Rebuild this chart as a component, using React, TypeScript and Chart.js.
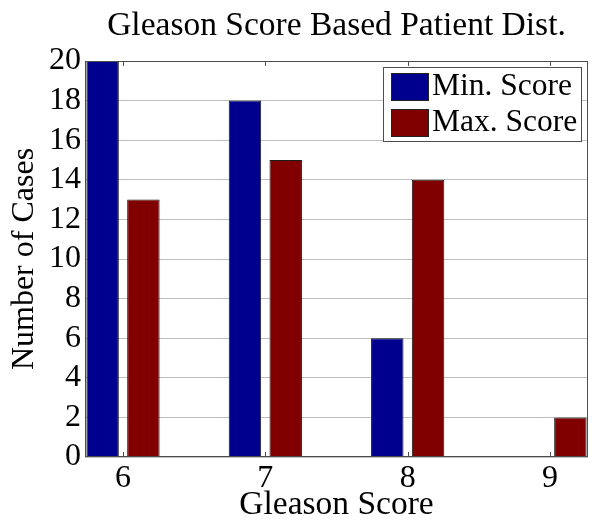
import React, { useEffect, useRef } from 'react';
import { Chart, registerables } from 'chart.js';

Chart.register(...registerables);

// ---- data ----
const categories = [6, 7, 8, 9];
const minScore = [20, 18, 6, 0];
const maxScore = [13, 15, 14, 2];
const seriesNames = ['Min. Score', 'Max. Score'];
const seriesColors = ['#00008f', '#800000'];
const yMin = 0;
const yMax = 20;
const yStep = 2;
const titleText = 'Gleason Score Based Patient Dist.';
const xTitleText = 'Gleason Score';
const yTitleText = 'Number of Cases';

const FONT = "'Liberation Serif', 'Times New Roman', Times, serif";
const AXIS_COLOR = '#4d4d4d';

const boxPlugin = {
  id: 'matlabBox',
  afterDatasetsDraw(chart: any) {
    const { ctx, chartArea } = chart;
    const { left, right, top, bottom } = chartArea;
    const xs = chart.scales.x;
    ctx.save();
    ctx.strokeStyle = AXIS_COLOR;
    ctx.lineWidth = 1;
    categories.forEach((c) => {
      const px = Math.round(xs.getPixelForValue(c)) + 0.5;
      ctx.beginPath();
      ctx.moveTo(px, bottom);
      ctx.lineTo(px, bottom - 5);
      ctx.moveTo(px, top);
      ctx.lineTo(px, top + 5);
      ctx.stroke();
    });
    ctx.strokeRect(left + 0.5, top + 0.5, right - left - 1, bottom - top - 1);
    ctx.restore();
  },
};

const legendPlugin = {
  id: 'insideLegend',
  afterDraw(chart: any) {
    const { ctx, chartArea } = chart;
    const boxLeft = chartArea.right - 205;
    const boxRight = chartArea.right - 6;
    const boxTop = chartArea.top + 6;
    const boxBottom = chartArea.top + 81;
    ctx.save();
    ctx.fillStyle = '#ffffff';
    ctx.fillRect(boxLeft, boxTop, boxRight - boxLeft, boxBottom - boxTop);
    ctx.strokeStyle = AXIS_COLOR;
    ctx.lineWidth = 1;
    ctx.strokeRect(boxLeft + 0.5, boxTop + 0.5, boxRight - boxLeft - 1, boxBottom - boxTop - 1);
    chart.data.datasets.forEach((ds: any, i: number) => {
      const sy = boxTop + 6 + i * 36;
      const sx = boxLeft + 8;
      ctx.fillStyle = ds.backgroundColor;
      ctx.fillRect(sx, sy, 38, 28);
      ctx.strokeStyle = '#222';
      ctx.strokeRect(sx + 0.5, sy + 0.5, 37, 27);
      ctx.fillStyle = '#000';
      ctx.font = `31.5px ${FONT}`;
      ctx.textAlign = 'left';
      ctx.textBaseline = 'middle';
      ctx.fillText(ds.label, sx + 41, sy + 14);
    });
    ctx.restore();
  },
};

export default function App() {
  const canvasRef = useRef<HTMLCanvasElement | null>(null);

  useEffect(() => {
    document.body.style.margin = '0';
    const canvas = canvasRef.current;
    if (!canvas) return;
    const yTicks: number[] = [];
    for (let v = yMin; v <= yMax; v += yStep) yTicks.push(v);

    const chart = new Chart(canvas, {
      type: 'bar',
      data: {
        datasets: [minScore, maxScore].map((vals, si) => ({
          label: seriesNames[si],
          data: categories.map((c, i) => ({ x: c, y: vals[i] })),
          backgroundColor: seriesColors[si],
          borderColor: '#1a1a1a',
          borderWidth: 1,
          categoryPercentage: 0.573,
          barPercentage: 0.796,
        })),
      },
      options: {
        responsive: false,
        animation: false,
        devicePixelRatio: 1,
        layout: { padding: { left: 0, right: 13, top: 0, bottom: 0 } },
        plugins: {
          legend: { display: false },
          tooltip: { enabled: false },
          title: {
            display: true,
            fullSize: false,
            text: titleText,
            color: '#000',
            font: { family: FONT, size: 33.5, weight: 'normal', lineHeight: 1 },
            padding: { top: 9, bottom: 18.5 },
          },
        },
        scales: {
          x: {
            type: 'linear',
            min: 5.733,
            max: 9.267,
            offset: false,
            afterBuildTicks: (s: any) => {
              s.ticks = categories.map((v) => ({ value: v }));
            },
            afterFit: (s: any) => {
              s.height = 71;
            },
            ticks: {
              color: '#000',
              font: { family: FONT, size: 32, lineHeight: 1 },
              padding: 6,
              maxRotation: 0,
              autoSkip: false,
              callback: (v: any) => String(v),
            },
            grid: { display: false, drawTicks: false },
            border: { display: false },
            title: {
              display: true,
              text: xTitleText,
              color: '#000',
              font: { family: FONT, size: 33.5, lineHeight: 1 },
              padding: { top: 0, bottom: 6 },
            },
          },
          y: {
            type: 'linear',
            min: yMin,
            max: yMax,
            afterBuildTicks: (s: any) => {
              s.ticks = yTicks.map((v) => ({ value: v }));
            },
            afterFit: (s: any) => {
              s.width = 85;
            },
            ticks: {
              color: '#000',
              font: { family: FONT, size: 32, lineHeight: 1 },
              padding: 4,
              callback: (v: any) => String(v),
            },
            grid: { color: '#bebebe', lineWidth: 1, drawTicks: false },
            border: { display: false },
            title: {
              display: true,
              text: yTitleText,
              color: '#000',
              font: { family: FONT, size: 32, lineHeight: 1 },
              padding: { top: 9, bottom: 0 },
            },
          },
        },
      } as any,
      plugins: [boxPlugin, legendPlugin],
    });
    return () => chart.destroy();
  }, []);

  return (
    <div style={{ width: 601, height: 528, background: '#fff' }}>
      <canvas ref={canvasRef} width={601} height={528} style={{ display: 'block' }} />
    </div>
  );
}
